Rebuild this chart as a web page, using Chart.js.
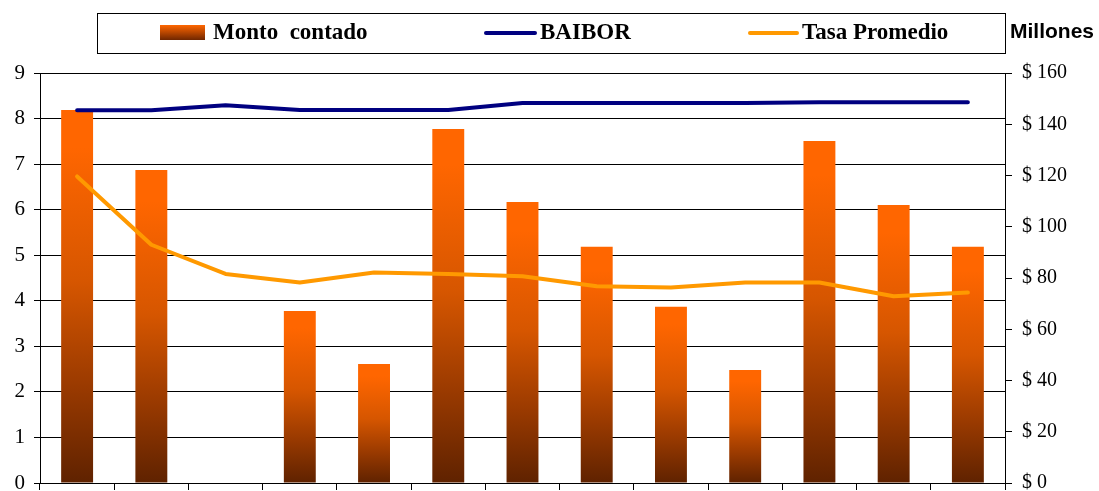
<!DOCTYPE html>
<html>
<head>
<meta charset="utf-8">
<script src="https://cdn.jsdelivr.net/npm/chart.js@4"></script>
<style>
  html, body { margin: 0; padding: 0; background: #fff; }
  #wrap { width: 1099px; height: 491px; }
</style>
</head>
<body>
<div id="wrap"><canvas id="chart" width="1099" height="491"></canvas></div>
<script>
// valores
const categories = ['1', '2', '3', '4', '5', '6', '7', '8', '9', '10', '11', '12', '13'];
const montoContado = [145.6, 122.1, 0, 67.1, 46.4, 138.1, 109.7, 92.2, 68.8, 44.1, 133.5, 108.5, 92.2]; // millones $
const baibor = [8.18, 8.18, 8.29, 8.19, 8.19, 8.19, 8.34, 8.34, 8.34, 8.34, 8.36, 8.36, 8.36];
const tasaPromedio = [6.73, 5.23, 4.59, 4.40, 4.62, 4.59, 4.54, 4.32, 4.29, 4.40, 4.40, 4.10, 4.18];

const serif = "'Liberation Serif', 'Times New Roman', serif";

// degradado naranja -> marron de cada barra
function barGradient(c) {
    const chart = c.chart;
    if (!chart.chartArea || c.type !== 'data') return '#FF6600';
    const s = chart.scales.y1;
    const top = s.getPixelForValue(c.raw);
    const bot = s.getPixelForValue(0);
    if (!(bot - top > 1)) return '#FF6600';
    const g = chart.ctx.createLinearGradient(0, top, 0, bot);
    g.addColorStop(0, '#FF6600');
    g.addColorStop(0.1, '#FF6600');
    g.addColorStop(0.46, '#D65600');
    g.addColorStop(0.74, '#9A3A00');
    g.addColorStop(1, '#5F2200');
    return g;
}

// leyenda con recuadro, como en el original
const legendBox = {
    id: 'legendBox',
    afterDraw(chart) {
        const ctx = chart.ctx;
        const a = chart.chartArea;
        const left = 97, top = 13, bottom = 53;
        const midY = 33;
        ctx.save();
        ctx.strokeStyle = '#000';
        ctx.lineWidth = 1;
        ctx.strokeRect(left + 0.5, top + 0.5, a.right - left, bottom - top);

        const items = [
            {x: 160, w: 45, tx: 213},
            {x: 486, w: 49, tx: 540},
            {x: 750, w: 47, tx: 802}
        ];
        chart.data.datasets.forEach(function(ds, i) {
            const it = items[i];
            if (ds.type === 'bar') {
                const g = ctx.createLinearGradient(0, midY - 8, 0, midY + 8);
                g.addColorStop(0, '#FF6600');
                g.addColorStop(1, '#662200');
                ctx.fillStyle = g;
                ctx.fillRect(it.x, midY - 8, it.w, 15);
            } else {
                ctx.strokeStyle = ds.borderColor;
                ctx.lineWidth = 4;
                ctx.lineCap = 'round';
                ctx.beginPath();
                ctx.moveTo(it.x, midY);
                ctx.lineTo(it.x + it.w, midY);
                ctx.stroke();
            }
            ctx.fillStyle = '#000';
            ctx.font = 'bold 23px ' + serif;
            ctx.textBaseline = 'middle';
            ctx.textAlign = 'left';
            ctx.fillText(ds.label, it.tx, midY);
        });

        ctx.font = "bold 21px 'Liberation Sans', Arial, sans-serif";
        ctx.fillText('Millones', 1010, 32);
        ctx.restore();
    }
};

function fixY(width) {
    return function(s) {
        s.width = width;
        s.paddingTop = 0;
        s.paddingBottom = 0;
    };
}

const ctx = document.getElementById('chart').getContext('2d');
new Chart(ctx, {
    data: {
        labels: categories,
        datasets: [
            {
                type: 'bar',
                label: 'Monto  contado',
                data: montoContado,
                yAxisID: 'y1',
                backgroundColor: barGradient,
                barPercentage: 0.43,
                categoryPercentage: 1,
                order: 3
            },
            {
                type: 'line',
                label: 'BAIBOR',
                data: baibor,
                yAxisID: 'y',
                borderColor: '#000080',
                borderWidth: 4,
                borderJoinStyle: 'round',
                borderCapStyle: 'round',
                pointRadius: 0,
                tension: 0,
                order: 1
            },
            {
                type: 'line',
                label: 'Tasa Promedio',
                data: tasaPromedio,
                yAxisID: 'y',
                borderColor: '#FF9900',
                borderWidth: 4,
                borderJoinStyle: 'round',
                borderCapStyle: 'round',
                pointRadius: 0,
                tension: 0,
                order: 2
            }
        ]
    },
    options: {
        responsive: false,
        animation: false,
        layout: { padding: { top: 73, bottom: 0, left: 0, right: 0 } },
        plugins: {
            legend: { display: false },
            tooltip: { enabled: false }
        },
        scales: {
            x: {
                offset: true,
                grid: {
                    offset: true,
                    drawOnChartArea: false,
                    drawTicks: true,
                    tickLength: 7,
                    color: '#000'
                },
                border: { color: '#000', width: 1 },
                ticks: { display: false },
                afterFit: function(s) { s.height = 8; }
            },
            y: {
                position: 'left',
                min: 0,
                max: 9,
                ticks: {
                    stepSize: 1,
                    padding: 9,
                    color: '#000',
                    font: { family: serif, size: 21 }
                },
                grid: { color: '#000', tickLength: 6 },
                border: { color: '#000', width: 1 },
                afterFit: fixY(40)
            },
            y1: {
                position: 'right',
                min: 0,
                max: 160,
                ticks: {
                    stepSize: 20,
                    padding: 10,
                    color: '#000',
                    font: { family: serif, size: 20 },
                    callback: function(v) { return '$ ' + v; }
                },
                grid: { drawOnChartArea: false, color: '#000', tickLength: 7 },
                border: { color: '#000', width: 1 },
                afterFit: fixY(94)
            }
        }
    },
    plugins: [legendBox]
});
</script>
</body>
</html>
